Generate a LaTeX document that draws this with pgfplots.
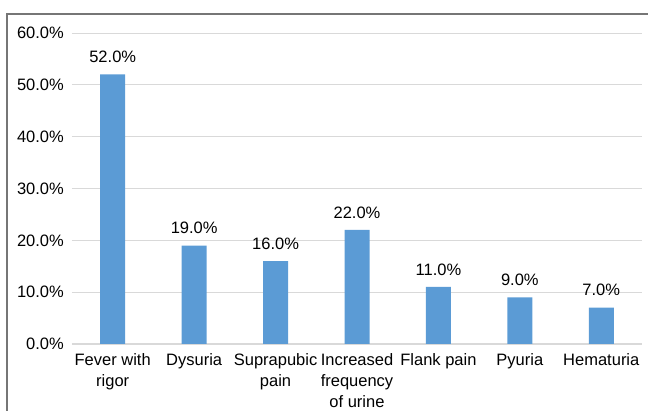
\documentclass[border=0pt]{standalone}
\usepackage{fontspec}
\setmainfont{Liberation Sans}
\usepackage{pgfplots}
\pgfplotsset{compat=1.18}
\definecolor{barblue}{RGB}{91,155,213}
\definecolor{gridgray}{RGB}{217,217,217}
\definecolor{framegray}{RGB}{118,118,118}
\newcommand{\lblfont}{\fontsize{16.5}{21}\selectfont}
\begin{document}
\begin{tikzpicture}
% page area and chart frame
\path[use as bounding box] (0pt,0pt) rectangle (648pt,-411pt);
\draw[framegray, line width=1.5pt] (7pt,-412pt) -- (7pt,-14pt) -- (649pt,-14pt);
\begin{axis}[
  at={(72pt,-344pt)}, anchor=south west,
  scale only axis, width=570pt, height=311pt,
  xmin=-0.5, xmax=6.5, ymin=0, ymax=60,
  ybar, bar width=25pt,
  axis x line*=bottom, axis y line*=left,
  x axis line style={gridgray, line width=1pt, -},
  y axis line style={draw=none},
  major tick length=0pt,
  ymajorgrids, grid style={gridgray, line width=0.8pt},
  ytick={0,10,...,60},
  yticklabel={\pgfmathprintnumber[fixed,fixed zerofill,precision=1]{\tick}\%},
  /pgf/number format/assume math mode=true,
  yticklabel style={font=\lblfont, inner sep=0pt, anchor=east, xshift=-8pt},
  xtick=data,
  xticklabels={{Fever with\\rigor}, Dysuria, {Suprapubic\\pain}, {Increased\\frequency\\of urine}, Flank pain, Pyuria, Hematuria},
  xticklabel style={font=\lblfont, align=center, inner sep=0pt, anchor=north, yshift=-9pt},
  nodes near coords={\pgfmathprintnumber[fixed,fixed zerofill,precision=1]{\pgfplotspointmeta}\%},
  every node near coord/.append style={font=\lblfont, inner sep=0pt, anchor=south, yshift=11.5pt, text=black},
  clip=false,
]
\addplot[fill=barblue, draw=none] coordinates {(0,52) (1,19) (2,16) (3,22) (4,11) (5,9) (6,7)};
\end{axis}
\end{tikzpicture}
\end{document}
